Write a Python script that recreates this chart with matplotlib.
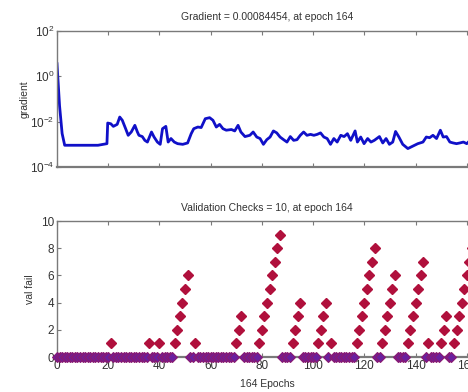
import matplotlib
matplotlib.use("Agg")
import matplotlib.pyplot as plt
import numpy as np

plt.rcParams["font.family"] = ["Liberation Sans", "DejaVu Sans"]
plt.rcParams["mathtext.fontset"] = "custom"
plt.rcParams["mathtext.rm"] = "Liberation Sans"
plt.rcParams["mathtext.it"] = "Liberation Sans"

# ---- gradient trace -------------------------------------------------------
grad_epoch = [0, 1, 2, 3, 10, 16, 19.5, 19.8, 21, 22, 23.5, 24.5, 25.5, 26.8, 27.8,
              29, 30.4, 31.4, 32, 33.3, 34.3, 35.3, 36.9, 37.9, 39.2, 40.3, 41.2,
              42.5, 43.4, 44.5, 45.8, 47.1, 49.1, 51, 52.4, 53.4, 55, 56.3, 57.9,
              59.6, 60.9, 62.2, 63.5, 64.8, 66.1, 68.1, 69.4, 70.7, 71.8, 73.4,
              75.3, 76.6, 78, 79.3, 80.6, 81.9, 83.2, 84.5, 85.8, 87.1, 88.5, 89.8,
              91.1, 92.4, 93.7, 95, 96.3, 97.6, 99, 100.3, 101.6, 102.9, 104.2,
              105.5, 106.8, 108.1, 109.4, 110.8, 112.1, 113.4, 114.7, 116.4, 117.3,
              118.6, 119.9, 121.3, 122.6, 123.9, 125.9, 127.2, 128.5, 129.8, 131.1,
              132.2, 133.5, 135, 137, 139, 140.9, 142.9, 144.2, 145.5, 146.8, 148.2,
              149.7, 150.8, 152.1, 153.4, 154.7, 156, 157.3, 158.7, 160, 161.3,
              162.5, 164]
grad_value = [3.6, 0.05, 0.003, 9.1e-4, 9.1e-4, 9.1e-4, 1.07e-3, 8.7e-3, 8.1e-3,
              6.2e-3, 7.6e-3, 1.6e-2, 1.15e-2, 4.9e-3, 2.5e-3, 3.5e-3, 6.9e-3,
              3.5e-3, 2.5e-3, 2.2e-3, 1.5e-3, 1.26e-3, 3.5e-3, 2.1e-3, 1.26e-3,
              1.0e-3, 4.9e-3, 6.2e-3, 1.26e-3, 1.8e-3, 1.26e-3, 1.07e-3, 1.0e-3,
              1.15e-3, 2.95e-3, 4.9e-3, 5.8e-3, 5.5e-3, 1.35e-2, 1.5e-2, 1.15e-2,
              5.8e-3, 7.6e-3, 4.9e-3, 4.2e-3, 4.5e-3, 3.9e-3, 6.9e-3, 3.5e-3,
              2.2e-3, 2.5e-3, 3.5e-3, 2.1e-3, 1.8e-3, 1.0e-3, 1.6e-3, 2.1e-3,
              3.9e-3, 3.2e-3, 2.1e-3, 1.6e-3, 1.26e-3, 2.2e-3, 1.5e-3, 1.6e-3,
              2.5e-3, 3.5e-3, 2.5e-3, 2.75e-3, 2.5e-3, 2.75e-3, 3.2e-3, 2.1e-3,
              1.8e-3, 1.0e-3, 1.8e-3, 1.26e-3, 2.5e-3, 2.2e-3, 2.95e-3, 1.5e-3,
              3.9e-3, 1.26e-3, 2.1e-3, 1.07e-3, 1.8e-3, 1.26e-3, 1.5e-3, 2.2e-3,
              1.15e-3, 1.8e-3, 1.0e-3, 1.26e-3, 3.7e-3, 2.1e-3, 1.0e-3, 6.5e-4,
              8.4e-4, 1.07e-3, 1.26e-3, 2.1e-3, 1.96e-3, 2.5e-3, 1.8e-3, 4.2e-3,
              2.1e-3, 2.2e-3, 1.26e-3, 1.15e-3, 1.07e-3, 1.15e-3, 1.26e-3, 1.07e-3,
              1.5e-3, 1.0e-3, 8.4454e-4]

# ---- validation failures: epochs where the counter is non-zero ------------
fail_epoch = [21, 36, 40, 46, 47, 48, 49, 50, 51, 54, 70, 71, 72,
              79, 80, 81, 82, 83, 84, 85, 86, 87, 92, 93, 94, 95,
              102, 103, 104, 105, 107, 117, 118, 119, 120, 121, 122, 123, 124,
              127, 128, 129, 130, 131, 132, 137, 138, 139, 140, 141, 142, 143,
              145, 150, 151, 152, 155, 156, 157, 158, 159, 160, 161, 162, 163, 164]
fail_count = [1, 1, 1, 1, 2, 3, 4, 5, 6, 1, 1, 2, 3,
              1, 2, 3, 4, 5, 6, 7, 8, 9, 1, 2, 3, 4,
              1, 2, 3, 4, 1, 1, 2, 3, 4, 5, 6, 7, 8,
              1, 2, 3, 4, 5, 6, 1, 2, 3, 4, 5, 6, 7,
              1, 1, 2, 3, 1, 2, 3, 4, 5, 6, 7, 8, 9, 10]
n_epochs = 164

epochs = np.arange(n_epochs + 1)
val_fail = np.zeros(n_epochs + 1)
val_fail[fail_epoch] = fail_count
zero = val_fail == 0

txt = "#333333"
spine = "#7a7a7a"
red = "#b0103c"

fig = plt.figure(figsize=(4.68, 3.92), dpi=100)
ax1 = fig.add_axes([57 / 468, 1 - 167 / 392, 420 / 468, 136 / 392])
ax2 = fig.add_axes([57 / 468, 1 - 357 / 392, 420 / 468, 136 / 392])

# --- gradient -------------------------------------------------------------
ax1.semilogy(grad_epoch, grad_value, color="#1010c8", lw=2.0)
ax1.set_xlim(0, n_epochs)
ax1.set_ylim(1e-4, 1e2)
ax1.set_yticks([1e-4, 1e-2, 1e0, 1e2])
ax1.set_yticklabels(["$10^{-4}$", "$10^{-2}$", "$10^{0}$", "$10^{2}$"])
ax1.minorticks_off()
ax1.set_xticks(range(0, 161, 20))
ax1.set_xticklabels([])
ax1.set_ylabel("gradient", color=txt, fontsize=7.5, labelpad=0)
ax1.set_title("Gradient = 0.00084454, at epoch 164", color=txt, fontsize=7.5, pad=8)

# --- validation checks ----------------------------------------------------
ax2.plot(epochs[~zero], val_fail[~zero], ls="none", marker="D", ms=5.5,
         color=red, clip_on=False, zorder=3)
ax2.plot(epochs[zero], val_fail[zero], ls="none", marker="D", ms=5.5,
         mfc="#6a1f9e", mec="#8a1a70", mew=0.8, clip_on=False, zorder=3)
ax2.set_xlim(0, n_epochs)
ax2.set_ylim(0, 10)
ax2.set_xticks(range(0, 161, 20))
ax2.set_yticks(range(0, 11, 2))
ax2.set_ylabel("val fail", color=txt, fontsize=7.5, labelpad=4)
ax2.set_xlabel("164 Epochs", color=txt, fontsize=7.5, labelpad=5)
ax2.set_title("Validation Checks = 10, at epoch 164", color=txt, fontsize=7.5, pad=7)

for ax in (ax1, ax2):
    for s in ax.spines.values():
        s.set_color(spine)
        s.set_linewidth(1.0)
    ax.spines["bottom"].set_linewidth(1.6)
    ax.tick_params(direction="in", top=True, right=True, length=3,
                   colors=spine, labelcolor=txt, labelsize=8.5, pad=2)

fig.savefig("out.png", dpi=100)
